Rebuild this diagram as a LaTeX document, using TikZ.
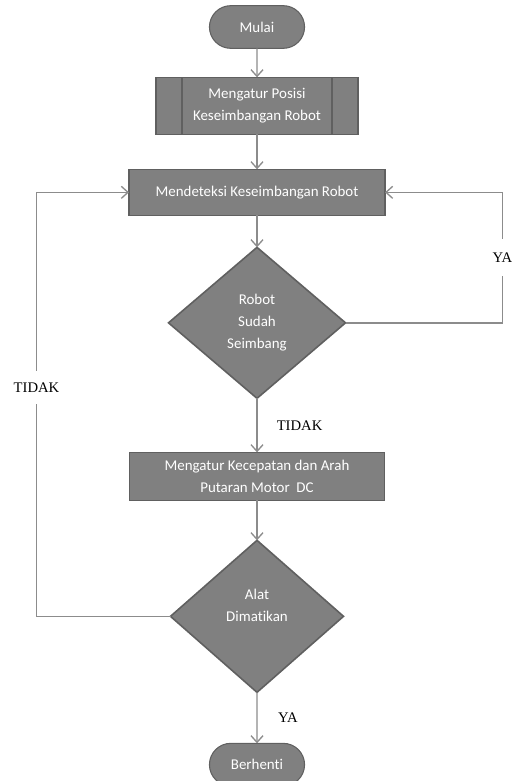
\documentclass[tikz,border=0pt]{standalone}
\usepackage{fontspec}
\setmainfont{Carlito}[Ligatures=NoCommon]
\newfontfamily\labelfont{Liberation Serif}
\usepackage{tikz}
\usetikzlibrary{shapes,arrows}
\usetikzlibrary{positioning}
\usetikzlibrary{shapes.geometric,shapes.misc}
\usetikzlibrary{arrows.meta}
\definecolor{boxgray}{RGB}{128,128,128}
\definecolor{edgegray}{RGB}{96,96,96}
\definecolor{linegray}{RGB}{140,140,140}
\tikzstyle{terminal} = [draw=edgegray,
rounded rectangle,
fill=boxgray,
line width=0.8pt,
outer sep=0pt,
text=white,
minimum width=78pt,
minimum height=32pt]
\tikzstyle{process} = [draw=edgegray,
rectangle,
fill=boxgray,
line width=1.2pt,
outer sep=0pt,
text=white,
align=center]
\tikzstyle{decision} = [draw=edgegray,
diamond,
fill=boxgray,
line width=1.2pt,
outer sep=0pt,
text=white,
align=center,
inner sep=0pt]
\tikzstyle{line} = [draw,
-{Straight Barb[length=5pt,width=9pt]},
color=linegray,
line width=1pt]

\begin{document}
\begin{tikzpicture}[x=0.75pt, y=-0.75pt,
	font=\fontsize{11.2}{16.5}\selectfont,
	answer/.style={font=\labelfont\fontsize{11}{13}\selectfont,
		text=black}]
	\useasboundingbox (0,0) rectangle (514,781);
	\node [terminal] (Mulai) at (257,27) {Mulai};
	\node [process, below=21.75pt of Mulai, minimum width=151.5pt,
		minimum height=42.75pt] (Posisi) {Mengatur Posisi\\Keseimbangan Robot};
	\node [process, below=26.25pt of Posisi, minimum width=192pt,
		minimum height=34.5pt] (Deteksi) {Mendeteksi Keseimbangan Robot};
	\node [decision, below=24pt of Deteksi, minimum width=132.75pt,
		minimum height=113.25pt] (Seimbang) {Robot\\Sudah\\Seimbang};
	\node [process, below=40.5pt of Seimbang, minimum width=191.25pt,
		minimum height=36pt] (Motor) {Mengatur Kecepatan dan Arah\\Putaran Motor~~DC};
	\node [decision, below=30pt of Motor, minimum width=129.75pt,
		minimum height=114pt] (Mati) {Alat\\Dimatikan\\~};
	\node [terminal, below=38.25pt of Mati] (Berhenti) {Berhenti};
	%% frame lines of the predefined process
	\draw [edgegray, line width=1.2pt] ([xshift=19.5pt]Posisi.north west) -- ([xshift=19.5pt]Posisi.south west);
	\draw [edgegray, line width=1.2pt] ([xshift=-19.5pt]Posisi.north east) -- ([xshift=-19.5pt]Posisi.south east);
	%% main flow
	\path [line] (Mulai) -- (Posisi);
	\path [line] (Posisi) -- (Deteksi);
	\path [line] (Deteksi) -- (Seimbang);
	\path [line] (Seimbang) -- node [answer, midway, right=11pt] (TidakA) {TIDAK} (Motor);
	\path [line] (Motor) -- (Mati);
	\path [line] (Mati) -- node [answer, midway, right=12pt] (YaB) {YA} (Berhenti);
	%% loops back
	\path [line] (Seimbang.east) -- ++(157,0) |- node [answer, pos=0.25, fill=white,
		inner xsep=1pt, inner ysep=10pt] (YaA) {YA} (Deteksi.east);
	\path [line] (Mati.west) -- ++(-134,0) |- node [answer, pos=0.27, fill=white,
		inner xsep=1pt, inner ysep=9pt] (TidakB) {TIDAK} (Deteksi.west);
\end{tikzpicture}
\end{document}
